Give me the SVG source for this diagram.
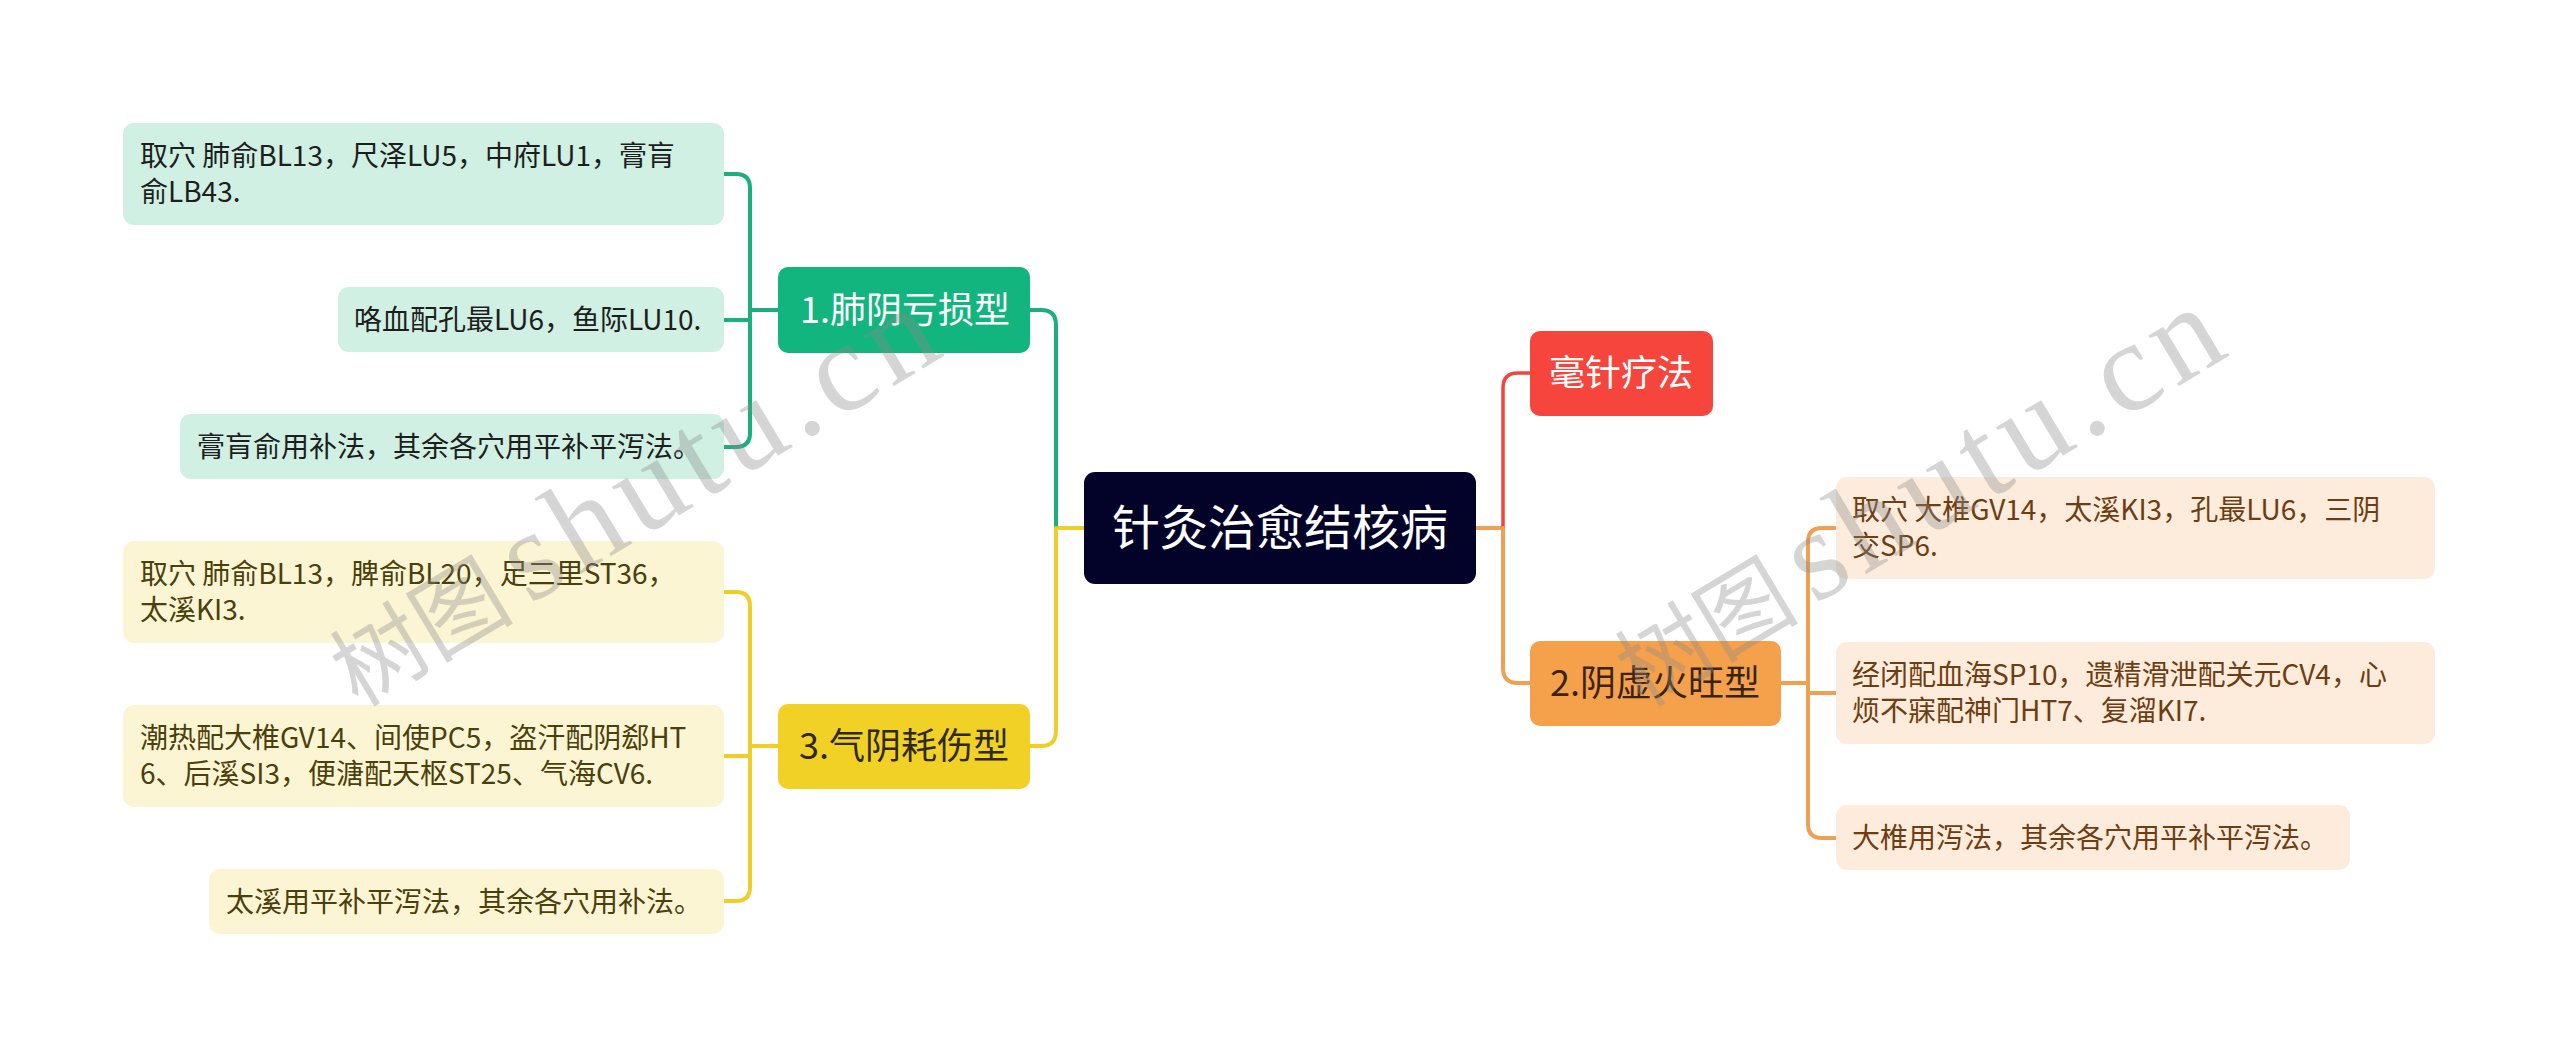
<svg xmlns="http://www.w3.org/2000/svg" width="2560" height="1057" viewBox="0 0 2560 1057">
<style>
  .cjk{font-family:"Noto Sans CJK SC","Noto Sans",sans-serif;}
  .leaf{font-size:28px;}
  .l1{font-size:36px;text-anchor:middle;}
  .root{font-size:48px;text-anchor:middle;fill:#ffffff;}
  .conn{fill:none;stroke-linecap:round;stroke-linejoin:round;}
  .g{stroke:#19B07E;stroke-width:4;}
  .y{stroke:#F0CE2A;stroke-width:4;}
  .r{stroke:#EE453C;stroke-width:3.5;}
  .o{stroke:#F0A052;stroke-width:4;}
  .gl{fill:#CFF0E3;} .gt{fill:#1E1E1E;}
  .yl{fill:#FCF5D3;} .yt{fill:#4A400C;}
  .ol{fill:#FDECDC;} .ot{fill:#6E3D12;}
  .wm{fill:#8a8a8a;fill-opacity:0.36;}
</style>
<rect width="2560" height="1057" fill="#ffffff"/>

<g id="connectors">
  <path class="conn y" d="M1084 528 H1056"/>
  <path class="conn g" d="M1056 528 V325 Q1056 310 1041 310 H1030"/>
  <path class="conn y" d="M1056 528 V731 Q1056 746 1041 746 H1030"/>
  <path class="conn o" d="M1476 528 H1503"/>
  <path class="conn r" d="M1503 528 V388 Q1503 373 1518 373 H1531"/>
  <path class="conn o" d="M1503 528 V668 Q1503 683 1518 683 H1530"/>
  <path class="conn g" d="M724 174 H736 Q750 174 750 188 V433 Q750 447 736 447 H724"/>
  <path class="conn g" d="M779 310 H750"/>
  <path class="conn g" d="M750 320 H724"/>
  <path class="conn y" d="M724 592 H736 Q750 592 750 606 V887 Q750 901 736 901 H724"/>
  <path class="conn y" d="M779 746 H750"/>
  <path class="conn y" d="M750 756 H724"/>
  <path class="conn o" d="M1836 528 H1822 Q1808 528 1808 542 V824 Q1808 838 1822 838 H1836"/>
  <path class="conn o" d="M1781 683 H1808"/>
  <path class="conn o" d="M1808 693 H1836"/>
</g>

<g id="root">
  <rect x="1084" y="472" width="392" height="112" rx="11" fill="#03032A"/>
  <text class="cjk root" x="1280" y="545">针灸治愈结核病</text>
</g>

<g id="n1">
  <rect x="778" y="267" width="252" height="86" rx="10" fill="#13B57E"/>
  <text class="cjk l1" x="905" y="323" fill="#ffffff">1.肺阴亏损型</text>
</g>
<g id="n2">
  <rect x="1530" y="331" width="183" height="85" rx="10" fill="#F5453C"/>
  <text class="cjk l1" x="1621" y="386" fill="#ffffff">毫针疗法</text>
</g>
<g id="n3">
  <rect x="1530" y="641" width="251" height="85" rx="10" fill="#F5A04B"/>
  <text class="cjk l1" x="1655" y="696" fill="#3A2410">2.阴虚火旺型</text>
</g>
<g id="n4">
  <rect x="778" y="704" width="252" height="85" rx="10" fill="#F2D126"/>
  <text class="cjk l1" x="904" y="759" fill="#2E2910">3.气阴耗伤型</text>
</g>

<g id="a1">
  <rect class="gl" x="123" y="123" width="601" height="102" rx="11"/>
  <text class="cjk leaf gt" x="140" y="166">取穴 肺俞BL13，尺泽LU5，中府LU1，膏肓</text>
  <text class="cjk leaf gt" x="140" y="202">俞LB43.</text>
</g>
<g id="a2">
  <rect class="gl" x="338" y="287" width="386" height="65" rx="11"/>
  <text class="cjk leaf gt" x="354" y="330">咯血配孔最LU6，鱼际LU10.</text>
</g>
<g id="a3">
  <rect class="gl" x="180" y="414" width="544" height="65" rx="11"/>
  <text class="cjk leaf gt" x="197" y="457">膏肓俞用补法，其余各穴用平补平泻法。</text>
</g>

<g id="c1">
  <rect class="yl" x="123" y="541" width="601" height="102" rx="11"/>
  <text class="cjk leaf yt" x="140" y="584">取穴 肺俞BL13，脾俞BL20，足三里ST36，</text>
  <text class="cjk leaf yt" x="140" y="620">太溪KI3.</text>
</g>
<g id="c2">
  <rect class="yl" x="123" y="705" width="601" height="102" rx="11"/>
  <text class="cjk leaf yt" x="140" y="748">潮热配大椎GV14、间使PC5，盗汗配阴郄HT</text>
  <text class="cjk leaf yt" x="140" y="784">6、后溪SI3，便溏配天枢ST25、气海CV6.</text>
</g>
<g id="c3">
  <rect class="yl" x="209" y="869" width="515" height="65" rx="11"/>
  <text class="cjk leaf yt" x="226" y="912">太溪用平补平泻法，其余各穴用补法。</text>
</g>

<g id="b1">
  <rect class="ol" x="1836" y="477" width="599" height="102" rx="11"/>
  <text class="cjk leaf ot" x="1852" y="520">取穴 大椎GV14，太溪KI3，孔最LU6，三阴</text>
  <text class="cjk leaf ot" x="1852" y="556">交SP6.</text>
</g>
<g id="b2">
  <rect class="ol" x="1836" y="642" width="599" height="102" rx="11"/>
  <text class="cjk leaf ot" x="1852" y="685">经闭配血海SP10，遗精滑泄配关元CV4，心</text>
  <text class="cjk leaf ot" x="1852" y="721">烦不寐配神门HT7、复溜KI7.</text>
</g>
<g id="b3">
  <rect class="ol" x="1836" y="805" width="514" height="65" rx="11"/>
  <text class="cjk leaf ot" x="1852" y="848">大椎用泻法，其余各穴用平补平泻法。</text>
</g>

<g id="watermark">
  <text class="wm" transform="translate(358,708) rotate(-31)"><tspan class="cjk" font-size="92">树图</tspan><tspan dx="16" font-family="Liberation Serif, serif" font-size="128" letter-spacing="8">shutu.cn</tspan></text>
  <text class="wm" transform="translate(1643,708) rotate(-31)"><tspan class="cjk" font-size="92">树图</tspan><tspan dx="16" font-family="Liberation Serif, serif" font-size="128" letter-spacing="8">shutu.cn</tspan></text>
</g>
</svg>
